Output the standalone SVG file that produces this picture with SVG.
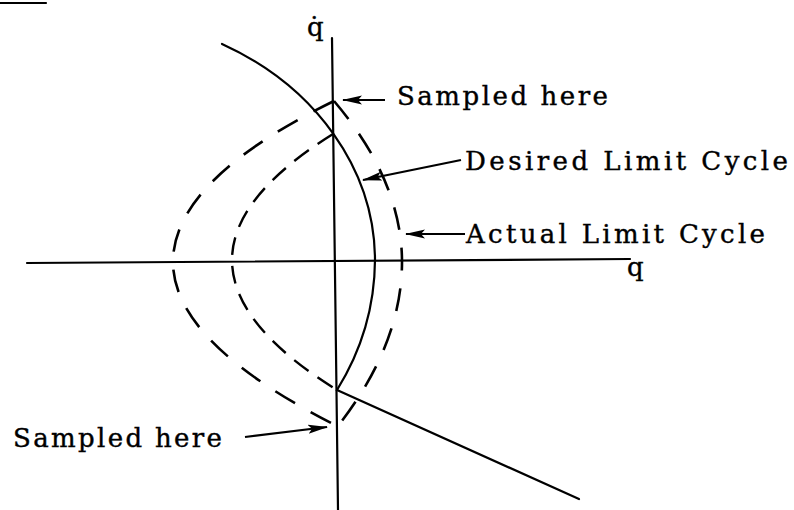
<svg xmlns="http://www.w3.org/2000/svg" width="794" height="510" viewBox="0 0 794 510">
<style>
.ln{fill:none;stroke:#000;stroke-width:2.2;stroke-linecap:round}
.outer{fill:none;stroke:#000;stroke-width:2.6;stroke-dasharray:23 18}
.inner{fill:none;stroke:#000;stroke-width:2.4;stroke-dasharray:18 11}
.lbl{font-family:"DejaVu Serif","Liberation Serif",serif;font-size:26px;fill:#000;stroke:#000;stroke-width:0.4}
.arr{fill:none;stroke:#000;stroke-width:2.2;marker-end:url(#head)}
</style>
<defs>
<marker id="head" viewBox="0 0 20 10" refX="19" refY="5" markerWidth="20" markerHeight="10" markerUnits="userSpaceOnUse" orient="auto">
<path d="M0,0.5 L20,5 L0,9.5 L4,5 Z" fill="#000"/>
</marker>
</defs>
<rect width="794" height="510" fill="#fff"/>
<line class="ln" x1="0" y1="3" x2="46" y2="3" stroke-width="2.5"/>
<g id="axes">
<line class="ln" x1="332" y1="38" x2="338" y2="510"/>
<line class="ln" x1="27" y1="263" x2="630" y2="259"/>
<text class="lbl" x="307" y="36" font-size="27">q̇</text>
<text class="lbl" x="627" y="276" font-size="27">q</text>
</g>
<g id="desired-curve">
<path class="ln" d="M222,44 A290 246 0 0 1 375,260 A290 266 0 0 1 337,390 L579,499"/>
</g>
<g id="actual-curve">
<path class="outer" d="M334,101 Q173,180 173,262 Q173,343 337,426"/>
<path class="outer" d="M334,101 Q402,181 402,262 Q402,344 338,426"/>
</g>
<g id="inner-curve">
<path class="inner" d="M333,134 Q232,197 232,260 Q232,325 337,390"/>
</g>
<g id="labels">
<text class="lbl" x="397" y="105" textLength="211" lengthAdjust="spacing">Sampled here</text>
<text class="lbl" x="465" y="170" textLength="323" lengthAdjust="spacing">Desired Limit Cycle</text>
<text class="lbl" x="466" y="243" textLength="299" lengthAdjust="spacing">Actual Limit Cycle</text>
<text class="lbl" x="13" y="447" textLength="209" lengthAdjust="spacing">Sampled here</text>
</g>
<g id="connectors">
<line class="arr" x1="385" y1="100" x2="343" y2="100"/>
<line class="arr" x1="461" y1="160" x2="363" y2="180"/>
<line class="arr" x1="465" y1="234" x2="406" y2="234"/>
<line class="arr" x1="245" y1="437" x2="327" y2="427"/>
</g>
</svg>
